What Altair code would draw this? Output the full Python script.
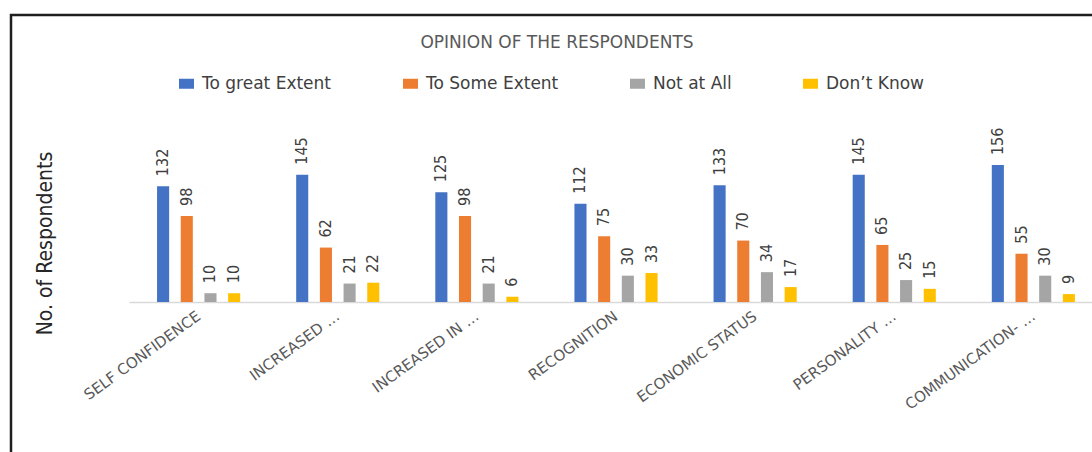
import altair as alt
import pandas as pd

# ---- data ----
categories = ["SELF CONFIDENCE", "INCREASED …", "INCREASED IN …", "RECOGNITION",
              "ECONOMIC STATUS", "PERSONALITY …", "COMMUNICATION- …"]
series = ["To great Extent", "To Some Extent", "Not at All", "Don’t Know"]
great_extent = [132, 145, 125, 112, 133, 145, 156]
some_extent = [98, 62, 98, 75, 70, 65, 55]
not_at_all = [10, 21, 21, 30, 34, 25, 30]
dont_know = [10, 22, 6, 33, 17, 15, 9]
colors = ["#4472C4", "#ED7D31", "#A5A5A5", "#FFC000"]
title_text = "OPINION OF THE RESPONDENTS"
y_title = "No. of Respondents"

rows = []
for s, vals in zip(series, [great_extent, some_extent, not_at_all, dont_know]):
    for c, v in zip(categories, vals):
        rows.append({"category": c, "series": s, "value": v})
df = pd.DataFrame(rows)

narrow = "Liberation Sans Narrow, DejaVu Sans Condensed, Liberation Sans, sans-serif"
wide = "DejaVu Sans, Verdana, sans-serif"

x_enc = alt.X(
    "category:N", sort=categories,
    scale=alt.Scale(domain=categories, range=[0, 974], paddingInner=0.319, paddingOuter=0.16),
    axis=alt.Axis(title=None, labelAngle=324, labelAlign="right", labelBaseline="middle",
                  labelPadding=12, labelLimit=400, labelFont=wide, labelFontSize=15,
                  labelColor="#595959", ticks=False, domainColor="#D9D9D9",
                  domainWidth=1.5, grid=False),
)
xo_enc = alt.XOffset("series:N", sort=series,
                     scale=alt.Scale(domain=series, paddingInner=0.49, paddingOuter=0.245))
y_enc = alt.Y(
    "value:Q", scale=alt.Scale(domain=[0, 180]),
    axis=alt.Axis(title=y_title, labels=False, ticks=False, domain=False, grid=False,
                  titleAngle=270, titleX=-84, titleY=99, titleAlign="center",
                  titleBaseline="middle", titleFont=narrow, titleFontSize=21,
                  titleFontWeight="normal", titleColor="#262626"),
)

base = alt.Chart(df)

bars = base.mark_bar().encode(
    x=x_enc, xOffset=xo_enc, y=y_enc,
    color=alt.Color("series:N", sort=series,
                    scale=alt.Scale(domain=series, range=colors),
                    legend=alt.Legend(title=None, orient="none", legendX=49, legendY=-69,
                                      direction="horizontal",
                                      symbolType="M-1,-0.667H1V0.667H-1Z", symbolSize=225,
                                      symbolStrokeWidth=0,
                                      labelFont=wide, labelFontSize=17, labelColor="#404040",
                                      labelOffset=7, columnPadding=70)),
)

labels = base.mark_text(angle=270, align="left", baseline="middle", dx=10,
                        font=narrow, fontSize=16, color="#404040").encode(
    x=x_enc, xOffset=xo_enc, y=y_enc, text="value:Q",
)

title_layer = alt.Chart(pd.DataFrame({"t": [title_text]})).mark_text(
    align="center", baseline="middle", font=wide, fontSize=17, color="#595959"
).encode(x=alt.value(428), y=alt.value(-101), text="t:N")

border = alt.Chart(pd.DataFrame({"b": [0]})).mark_rect(
    fillOpacity=0, stroke="#1f1f1f", strokeWidth=2.5
).encode(x=alt.value(-118), x2=alt.value(1000), y=alt.value(-129), y2=alt.value(330))

chart = alt.layer(border, bars, labels, title_layer).properties(
    width=963, height=158,
    padding={"left": 129, "top": 144, "right": 0, "bottom": 150},
    autosize=alt.AutoSizeParams(type="none"),
    background="white",
).configure_view(stroke=None)

chart.save("out.html", embed_options={"renderer": "svg", "actions": False})
